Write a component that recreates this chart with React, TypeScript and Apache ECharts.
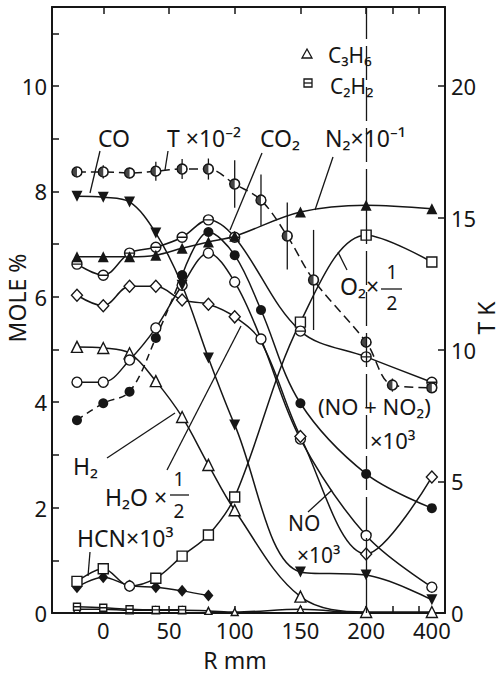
import React, { useEffect, useRef } from "react";
import * as echarts from "echarts";

// ---------- data (R in mm) ----------
const R = [-20, 0, 20, 40, 60, 80, 100, 120, 150, 200, 400];
const CO = [7.91, 7.89, 7.8, 7.21, 6.22, 4.84, 3.57, null, 0.78, 0.72, 0.25];
const N2 = [6.76, 6.76, 6.76, 6.79, 6.92, 7.04, 7.15, null, 7.61, 7.74, 7.67];
const CO2 = [6.62, 6.41, 6.83, 6.94, 7.13, 7.46, 7.13, null, 5.35, 4.86, 4.38];
const NO = [4.38, 4.38, 4.8, 5.41, 6.22, 6.83, 6.28, 5.2, 3.3, 1.47, 0.49];
const NOX = [3.66, 3.98, 4.2, 5.22, 6.41, 7.23, 6.79, 5.75, 3.98, 2.64, 1.99];
const H2O = [6.03, 5.83, 6.2, 6.2, 5.94, 5.86, 5.62, 5.15, 3.35, 1.12, 2.58];
const O2 = [0.6, 0.84, 0.51, 0.66, 1.08, 1.48, 2.2, null, 5.52, 7.17, 6.66];
const H2 = [5.05, 5.03, 4.93, 4.4, 3.72, 2.81, 1.95, null, 0.31, 0.02, 0.02];
const C3H6 = [0.07, 0.07, 0.05, 0.05, 0.05, 0.04, 0.02, null, 0.07, 0.0, 0.0];
const HCN_R = [-20, 0, 20, 40, 60, 80];
const HCN = [0.49, 0.68, 0.52, 0.49, 0.42, 0.33];
const C2H2_R = [-20, 0, 20, 40, 60];
const C2H2 = [0.12, 0.1, 0.07, 0.06, 0.06];

const T_R = [-20, 0, 20, 40, 60, 80, 100, 120, 140, 160, 200, 280, 400];
const T_VAL = [16.74, 16.74, 16.7, 16.77, 16.85, 16.85, 16.28, 15.67, 14.31, 12.64, 10.28, 8.65, 8.55];
const T_ERR = [0.15, 0.25, 0.2, 0.36, 0.38, 0.4, 0.9, 0.97, 1.27, 1.9, 0, 0.25, 0];

const X_TICK_R = [0, 50, 100, 150, 200, 280, 360];
const X_LABEL_R = [0, 50, 100, 150, 200, 400];

// broken x scale: linear to 200 mm, compressed beyond
const xp = (r: number) => (r <= 200 ? r : 200 + (r - 200) / 4);
const xr = (p: number) => (p <= 200 ? p : 200 + (p - 200) * 4);

const INK = "#161616";
const FONT = "'Noto Sans', 'DejaVu Sans', sans-serif";

const pts = (ys: (number | null)[], rs: number[] = R) =>
  rs.map((r, i) => (ys[i] == null ? null : [xp(r), ys[i] as number])).filter((d) => d !== null) as number[][];

const open = { color: "#fff", borderColor: INK, borderWidth: 1.4 };
const filled = { color: INK, borderColor: INK, borderWidth: 0 };

const CIRCLE_BAR = "path://M0,10 A10,10 0 1,1 20,10 A10,10 0 1,1 0,10 Z M0,10 L20,10";
const SQUARE_BAR = "path://M0,0 L20,0 L20,20 L0,20 Z M0,10 L20,10";
const HALF_DISK =
  "path://M10,0 A10,10 0 1,1 10,20 A10,10 0 1,1 10,0 Z M10,1.8 A8.2,8.2 0 1,0 10,18.2 A8.2,8.2 0 1,0 10,1.8 Z M10,1.8 A8.2,8.2 0 0,0 10,18.2 Z";

function line(name: string, data: any[], symbol: string, size: any, itemStyle: any, extra: any = {}) {
  return {
    type: "line",
    name,
    data,
    smooth: 0.35,
    symbol,
    symbolSize: size,
    showAllSymbol: true,
    lineStyle: { color: INK, width: 1.5 },
    itemStyle,
    ...extra,
  };
}

function txt(text: string, x: number, y: number, size = 23, align = "left", rotation = 0) {
  return {
    type: "text",
    x,
    y,
    rotation,
    silent: true,
    style: {
      text,
      fontSize: size,
      fontFamily: FONT,
      fill: INK,
      align,
      verticalAlign: "middle",
      textAlign: align,
      textVerticalAlign: "middle",
    },
  };
}

function seg(x1: number, y1: number, x2: number, y2: number, w = 1.3) {
  return { type: "line", silent: true, shape: { x1, y1, x2, y2 }, style: { stroke: INK, lineWidth: w } };
}

export default function App() {
  const ref = useRef<HTMLDivElement>(null);
  useEffect(() => {
    if (!ref.current) return;
    const chart = echarts.init(ref.current, null, { renderer: "svg" });

    const axisLine = { show: true, onZero: false, lineStyle: { color: INK, width: 2 } };
    const tick = { show: true, inside: true, length: 7, lineStyle: { color: INK, width: 1.5 } };
    const xTick = { ...tick, customValues: X_TICK_R.map(xp) };
    const labelStyle = { color: INK, fontSize: 22, fontFamily: FONT };

    const hcnData = pts(HCN, HCN_R);
    const h2oData = pts(H2O).map((d) => (d[0] === 120 ? { value: d, symbol: "none" } : d));
    const noxDashed = pts(NOX).filter((d) => d[0] <= 60);
    const noxSolid = pts(NOX).filter((d) => d[0] >= 60);
    const tData = pts(T_VAL, T_R);

    const option: any = {
      animation: false,
      backgroundColor: "#fff",
      grid: { left: 52, right: 57, top: 7, bottom: 65, containLabel: false },
      xAxis: [
        {
          type: "value",
          min: -39,
          max: 260,
          position: "bottom",
          axisLine,
          axisTick: xTick,
          splitLine: { show: false },
          axisLabel: {
            ...labelStyle,
            margin: 6,
            customValues: X_LABEL_R.map(xp),
            formatter: (v: number) => String(Math.round(xr(v))),
          },
        },
        {
          type: "value",
          min: -39,
          max: 260,
          position: "top",
          axisLine,
          axisTick: xTick,
          splitLine: { show: false },
          axisLabel: { show: false },
        },
      ],
      yAxis: [
        {
          type: "value",
          min: 0,
          max: 11.5,
          interval: 1,
          position: "left",
          axisLine,
          axisTick: tick,
          splitLine: { show: false },
          axisLabel: {
            ...labelStyle,
            margin: 5,
            formatter: (v: number) => (v % 2 === 0 ? String(v) : ""),
          },
        },
        {
          type: "value",
          min: 0,
          max: 23,
          interval: 5,
          position: "right",
          axisLine,
          axisTick: tick,
          splitLine: { show: false },
          axisLabel: {
            ...labelStyle,
            margin: 6,
            formatter: (v: number) => (v % 5 === 0 ? String(v) : ""),
          },
        },
      ],
      series: [
        line("C3H6", pts(C3H6), "triangle", 7, open, {
          markLine: {
            silent: true,
            symbol: "none",
            label: { show: false },
            lineStyle: { color: INK, width: 1.3, type: [34, 7] },
            data: [{ xAxis: xp(200) }],
          },
        }),
        line("C2H2", pts(C2H2, C2H2_R), SQUARE_BAR, 7, open),
        line("HCN×10³", hcnData, "diamond", [10, 12], filled),
        line("O2×1/2", pts(O2).map((d) => (d[0] === 20 ? { value: d, symbol: "circle", symbolSize: 10 } : d)), "rect", 10, open),
        line("H2", pts(H2), "triangle", 11, open),
        line("(NO+NO2)×10³ a", noxDashed, "circle", 10, filled, { lineStyle: { color: INK, width: 1.5, type: [7, 5] } }),
        line("(NO+NO2)×10³", noxSolid, "circle", 10, filled),
        line("NO×10³", pts(NO), "circle", 10, open),
        line("H2O×1/2", h2oData, "diamond", [11, 12], open),
        line("CO2", pts(CO2), CIRCLE_BAR, 10, open),
        line("N2×10⁻¹", pts(N2), "triangle", 11, filled),
        line("CO", pts(CO), "triangle", 11, filled, { symbolRotate: 180 }),
        {
          type: "custom",
          name: "T error",
          xAxisIndex: 0,
          yAxisIndex: 1,
          silent: true,
          z: 3,
          data: T_R.map((r, i) => [xp(r), T_VAL[i] - T_ERR[i], T_VAL[i] + T_ERR[i]]).filter((d) => d[2] > d[1]),
          encode: { x: 0, y: [1, 2] },
          renderItem: (_p: any, api: any) => {
            const a = api.coord([api.value(0), api.value(1)]);
            const b = api.coord([api.value(0), api.value(2)]);
            return {
              type: "line",
              shape: { x1: a[0], y1: a[1], x2: b[0], y2: b[1] },
              style: { stroke: INK, lineWidth: 1.3 },
            };
          },
        },
        line("T×10⁻²", tData, "circle", 10, open, {
          yAxisIndex: 1,
          z: 4,
          lineStyle: { color: INK, width: 1.5, type: [9, 5] },
        }),
        {
          type: "scatter",
          name: "T marker",
          yAxisIndex: 1,
          z: 5,
          silent: true,
          data: tData,
          symbol: HALF_DISK,
          symbolSize: 10,
          itemStyle: { color: INK, borderWidth: 0 },
        },
      ],
      graphic: [
        // legend
        { type: "polygon", silent: true, shape: { points: [[302, 58], [312, 58], [307, 49]] }, style: { fill: "#fff", stroke: INK, lineWidth: 1.3 } },
        { type: "rect", silent: true, shape: { x: 304, y: 79, width: 8, height: 8 }, style: { fill: "#fff", stroke: INK, lineWidth: 1.3 } },
        seg(304, 83, 312, 83),
        txt("C₃H₆", 328, 55, 21),
        txt("C₂H₂", 330, 86, 21),
        // top labels
        txt("CO", 98, 138),
        txt("T ×10⁻²", 167, 138),
        txt("CO₂", 260, 138),
        txt("N₂×10⁻¹", 325, 138),
        seg(100, 151, 90, 193),
        seg(168, 151, 165, 170),
        seg(262, 153, 230, 230),
        seg(333, 157, 315, 210),
        // O2
        txt("O₂×", 340, 286),
        txt("1", 392, 272, 19, "center"),
        seg(381, 289, 402, 289),
        txt("2", 392, 303, 19, "center"),
        seg(347, 270, 338, 252),
        // NO + NO2
        txt("(NO + NO₂)", 318, 406, 22),
        txt("×10³", 370, 440, 22),
        txt("NO", 288, 523, 21),
        txt("×10³", 297, 555, 21),
        seg(308, 512, 332, 490),
        // H2, H2O, HCN
        txt("H₂", 73, 466),
        seg(107, 458, 175, 413),
        txt("H₂O ×", 105, 497),
        txt("1", 179, 479, 19, "center"),
        seg(170, 495, 189, 495),
        txt("2", 179, 511, 19, "center"),
        seg(167, 470, 241, 326),
        txt("HCN×10³", 77, 538),
        seg(90, 552, 88, 576),
        // axis names
        txt("MOLE %", 17, 298, 23, "center", Math.PI / 2),
        txt("T K", 486, 318, 23, "center", Math.PI / 2),
        txt("R mm", 235, 660, 23, "center"),
      ],
    };

    chart.setOption(option);
    return () => chart.dispose();
  }, []);

  return (
    <div
      ref={ref}
      style={{ position: "absolute", left: 0, top: 0, width: 502, height: 678, background: "#fff" }}
    />
  );
}
